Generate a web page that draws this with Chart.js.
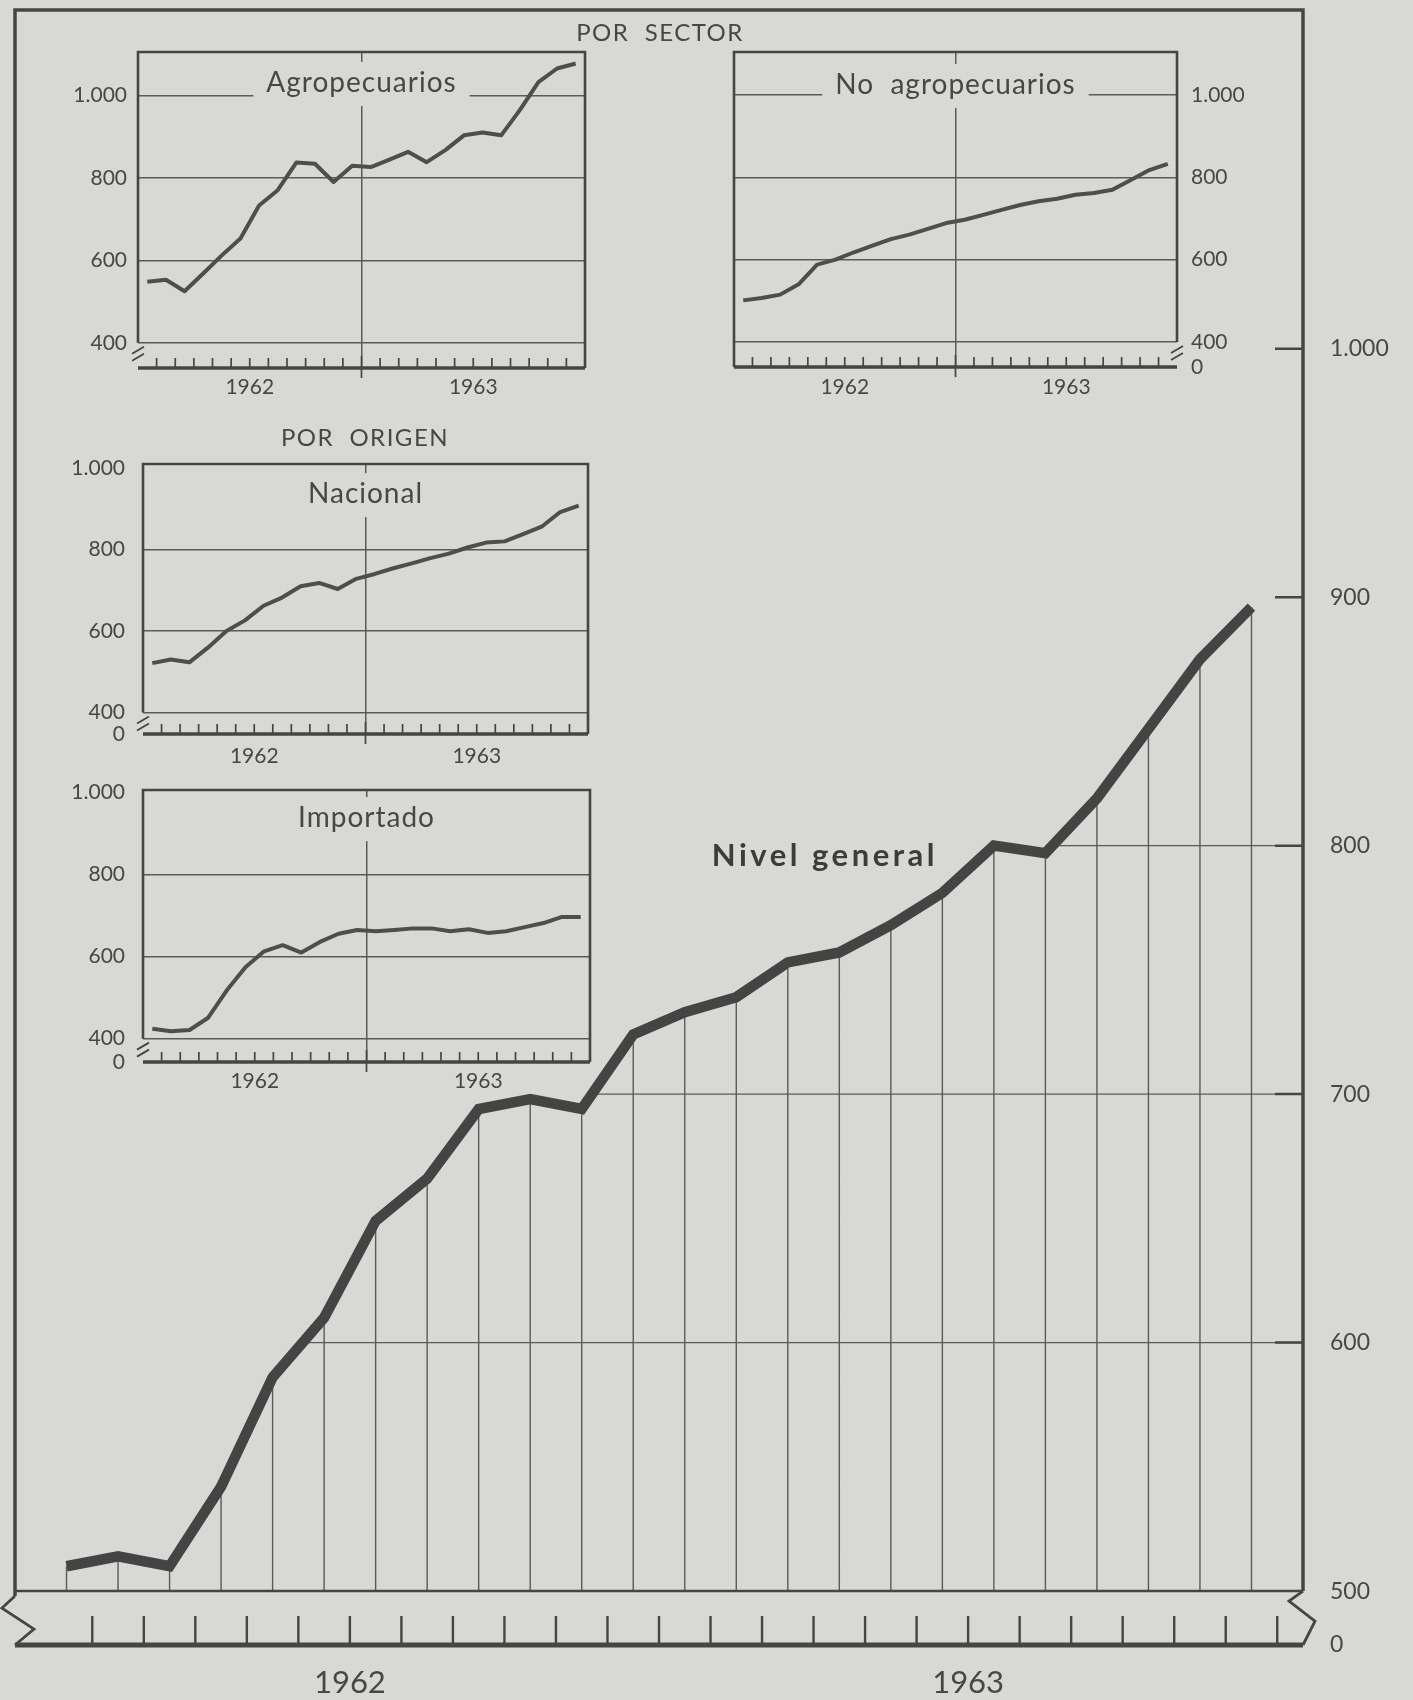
<!DOCTYPE html>
<html lang="es">
<head>
<meta charset="utf-8">
<title>Precios mayoristas 1962-1963</title>
<script src="https://cdn.jsdelivr.net/npm/chart.js@4.4.1/dist/chart.umd.min.js"></script>
<style>
  html, body { margin: 0; padding: 0; background: #d8d8d4; }
  #page { position: relative; width: 1413px; height: 1700px; overflow: hidden; }
  canvas { position: absolute; display: block; }
</style>
</head>
<body>
<div id="page">
  <canvas id="main" width="1413" height="1700" style="left:0;top:0"></canvas>
  <canvas id="agro"></canvas>
  <canvas id="noagro"></canvas>
  <canvas id="nacional"></canvas>
  <canvas id="importado"></canvas>
</div>
<script>
// ---- data ----
const months = [
  'ene 1962', 'feb 1962', 'mar 1962', 'abr 1962', 'may 1962', 'jun 1962',
  'jul 1962', 'ago 1962', 'sep 1962', 'oct 1962', 'nov 1962', 'dic 1962',
  'ene 1963', 'feb 1963', 'mar 1963', 'abr 1963', 'may 1963', 'jun 1963',
  'jul 1963', 'ago 1963', 'sep 1963', 'oct 1963', 'nov 1963', 'dic 1963'
];
const years = ['1962', '1963'];

const nivelGeneral    = [510, 514, 510, 542, 586, 610, 649, 666, 694, 698, 694, 724,
                         733, 739, 753, 757, 768, 781, 800, 797, 819, 847, 875, 896];
const agropecuarios   = [548, 553, 525, 568, 612, 653, 733, 770, 837, 834, 790, 829,
                         826, 844, 863, 838, 867, 903, 910, 903, 964, 1032, 1065, 1077];
const noAgropecuarios = [501, 507, 515, 540, 588, 600, 618, 634, 650, 661, 675, 689,
                         697, 709, 721, 733, 742, 748, 758, 762, 770, 794, 818, 833];
const nacional        = [521, 530, 523, 559, 600, 626, 662, 682, 710, 718, 703, 728,
                         740, 754, 766, 779, 790, 805, 817, 820, 838, 856, 892, 908];
const importado       = [424, 418, 421, 451, 518, 574, 613, 628, 610, 636, 656, 665,
                         662, 665, 669, 669, 662, 667, 658, 662, 672, 682, 697, 697];

const mainTicks  = [500, 600, 700, 800, 900, 1000];
const insetTicks = [400, 600, 800, 1000];

// ---- look ----
const PAPER = '#d8d8d4';
const INK = '#454545';
const GRID = '#5a5a5a';
const TEXT = '#474747';
const FONT = 'Lato, "Open Sans", sans-serif';
const NARROW = '"Liberation Sans Narrow", Lato, sans-serif';

const fmt = v => String(v).replace(/\B(?=(\d{3})+(?!\d))/g, '.');
const toPoints = arr => arr.map((v, i) => ({ x: i + 1, y: v }));

// year centres and the boundary between the two years (x = month number)
const yearCenters = years.map(yr => {
  const idx = months.map((m, i) => m.endsWith(yr) ? i + 1 : null).filter(v => v !== null);
  return idx.reduce((s, v) => s + v, 0) / idx.length;
});
const yearSplit = months.findIndex(m => m.endsWith(years[1])) + 0.5;
const yearLabel = v => {
  const i = yearCenters.findIndex(c => Math.abs(c - v) < 1e-6);
  return i >= 0 ? years[i] : '';
};

// ============ MAIN CHART ============

const BASE_VALUE = 500;
const MAIN_MIN = 478.3;
const MAIN_MAX = 1136.3;

const mainDecor = {
  id: 'mainDecor',
  beforeDatasetsDraw(chart) {
    const { ctx, chartArea: a, scales: { x, y } } = chart;
    const pts = chart.getDatasetMeta(0).data;
    const base = y.getPixelForValue(BASE_VALUE);
    const first = pts[0], last = pts[pts.length - 1];
    ctx.save();

    // drop lines from every month down to the base
    ctx.strokeStyle = GRID;
    ctx.lineWidth = 1.4;
    ctx.beginPath();
    pts.forEach(p => { ctx.moveTo(p.x, p.y); ctx.lineTo(p.x, base); });
    ctx.stroke();

    // horizontal grid only below the curve
    ctx.save();
    ctx.beginPath();
    ctx.moveTo(first.x, base);
    pts.forEach(p => ctx.lineTo(p.x, p.y));
    ctx.lineTo(a.right, last.y);
    ctx.lineTo(a.right, base);
    ctx.closePath();
    ctx.clip();
    ctx.beginPath();
    mainTicks.filter(v => v > BASE_VALUE).forEach(v => {
      const py = y.getPixelForValue(v);
      ctx.moveTo(a.left, py); ctx.lineTo(a.right, py);
    });
    ctx.stroke();
    ctx.restore();

    // short ticks on the inside of the right border
    ctx.strokeStyle = INK;
    ctx.lineWidth = 2.5;
    ctx.beginPath();
    mainTicks.filter(v => v > BASE_VALUE).forEach(v => {
      const py = y.getPixelForValue(v);
      ctx.moveTo(a.right - 28, py); ctx.lineTo(a.right, py);
    });
    ctx.stroke();

    // headings
    ctx.fillStyle = TEXT;
    ctx.textAlign = 'center';
    ctx.textBaseline = 'middle';
    ctx.font = '24px ' + FONT;
    ctx.letterSpacing = '1.5px';
    ctx.fillText('POR  SECTOR', 660, 33);
    ctx.fillText('POR  ORIGEN', 365, 438);

    ctx.font = 'bold 31px ' + FONT;
    ctx.letterSpacing = '3.5px';
    ctx.fillStyle = '#3c3c3c';
    ctx.fillText('Nivel general', x.getPixelForValue(15.72), y.getPixelForValue(796));
    ctx.restore();
  },
  afterDraw(chart) {
    const { ctx, chartArea: a, scales: { x, y } } = chart;
    const L = a.left, R = a.right, T = a.top, B = a.bottom;
    const base = y.getPixelForValue(BASE_VALUE);
    ctx.save();
    ctx.strokeStyle = INK;
    ctx.lineJoin = 'miter';

    // frame with broken sides
    ctx.lineWidth = 3.5;
    ctx.beginPath();
    ctx.moveTo(L, base + 5);
    ctx.lineTo(L, T);
    ctx.lineTo(R, T);
    ctx.lineTo(R, base);
    ctx.stroke();

    ctx.lineWidth = 2.8;
    ctx.beginPath();
    ctx.moveTo(L, base + 5); ctx.lineTo(L - 13, base + 17); ctx.lineTo(L + 19, base + 38); ctx.lineTo(L, B);
    ctx.moveTo(R, base); ctx.lineTo(R - 14, base + 10); ctx.lineTo(R + 12, base + 30); ctx.lineTo(R, B);
    ctx.stroke();

    // base line (500)
    ctx.lineWidth = 2.5;
    ctx.beginPath();
    ctx.moveTo(L, base); ctx.lineTo(R, base);
    ctx.stroke();

    // lower axis (0) with month ticks
    ctx.lineWidth = 5;
    ctx.beginPath();
    ctx.moveTo(L, B); ctx.lineTo(R, B);
    ctx.stroke();

    ctx.lineWidth = 2.4;
    ctx.beginPath();
    months.forEach((m, i) => {
      const px = x.getPixelForValue(i + 1.5);
      ctx.moveTo(px, B - 29); ctx.lineTo(px, B);
    });
    ctx.stroke();
    ctx.restore();
  }
};

new Chart(document.getElementById('main'), {
  type: 'line',
  data: {
    datasets: [{
      label: 'Nivel general',
      data: toPoints(nivelGeneral),
      borderColor: '#444444',
      borderWidth: 10.5,
      borderJoinStyle: 'miter',
      borderCapStyle: 'butt',
      pointRadius: 0,
      tension: 0
    }]
  },
  options: {
    responsive: false,
    animation: false,
    events: [],
    layout: { padding: { left: 15, top: 10, right: 0, bottom: 0 } },
    plugins: { legend: { display: false }, tooltip: { enabled: false } },
    scales: {
      x: {
        type: 'linear', min: 0, max: 25,
        grid: { display: false, drawTicks: false },
        border: { display: false },
        afterBuildTicks: s => { s.ticks = yearCenters.map(v => ({ value: v })); },
        ticks: {
          callback: v => yearLabel(v),
          autoSkip: false, maxRotation: 0, padding: 19,
          color: TEXT, font: { family: NARROW, size: 31 }
        },
        afterFit: s => { s.height = 55; s.paddingLeft = 0; s.paddingRight = 0; }
      },
      y: {
        type: 'linear', position: 'right', min: MAIN_MIN, max: MAIN_MAX,
        grid: { display: false, drawTicks: false },
        border: { display: false },
        afterBuildTicks: s => { s.ticks = [{ value: s.min }].concat(mainTicks.map(v => ({ value: v }))); },
        ticks: {
          callback: (v, i) => i === 0 ? '0' : fmt(v),
          autoSkip: false, padding: 27,
          color: TEXT, font: { family: FONT, size: 23 }
        },
        afterFit: s => { s.width = 110; s.paddingTop = 0; s.paddingBottom = 0; }
      }
    }
  },
  plugins: [mainDecor]
});

// ============ INSETS ============

const insetDecor = {
  id: 'insetDecor',
  beforeDatasetsDraw(chart, args, o) {
    const { ctx, scales: { x, y } } = chart;
    const cx = x.getPixelForValue(yearSplit);
    const cy = y.getPixelForValue(o.titleAt);
    ctx.save();
    ctx.font = '28px ' + FONT;
    ctx.letterSpacing = '1px';
    const w = ctx.measureText(o.title).width;
    ctx.fillStyle = PAPER;
    ctx.fillRect(cx - w / 2 - 13, cy - 21, w + 26, 44);
    ctx.fillStyle = TEXT;
    ctx.textAlign = 'center';
    ctx.textBaseline = 'middle';
    ctx.fillText(o.title, cx, cy);
    ctx.restore();
  },
  afterDraw(chart, args, o) {
    const { ctx, chartArea: a, scales: { x, y } } = chart;
    const L = a.left, R = a.right, T = a.top, B = a.bottom;
    const y400 = y.getPixelForValue(insetTicks[0]);
    const breakLeft = o.breakSide === 'left';
    ctx.save();
    ctx.strokeStyle = INK;
    ctx.lineWidth = 2.6;
    ctx.beginPath();
    ctx.moveTo(L, breakLeft ? y400 : B);
    ctx.lineTo(L, T);
    ctx.lineTo(R, T);
    ctx.lineTo(R, breakLeft ? B : y400);
    ctx.stroke();

    ctx.lineWidth = 3.4;
    ctx.beginPath();
    ctx.moveTo(L, B); ctx.lineTo(R, B);
    ctx.stroke();

    // break mark
    const bx = breakLeft ? L : R;
    ctx.lineWidth = 1.8;
    ctx.beginPath();
    [0, 7].forEach(d => {
      ctx.moveTo(bx - 6, y400 + 11 + d);
      ctx.lineTo(bx + 6, y400 + 4 + d);
    });
    ctx.stroke();

    // month ticks, longer one at the change of year
    ctx.lineWidth = 1.7;
    ctx.beginPath();
    for (let i = 0; i < months.length - 1; i++) {
      const v = i + 1.5;
      const px = x.getPixelForValue(v);
      if (Math.abs(v - yearSplit) < 1e-6) {
        ctx.moveTo(px, B - 12); ctx.lineTo(px, B + 10);
      } else {
        ctx.moveTo(px, B - 10); ctx.lineTo(px, B);
      }
    }
    ctx.stroke();
    ctx.restore();
  }
};

function makeInset(id, values, s) {
  const el = document.getElementById(id);
  el.width = s.canvas.w;
  el.height = s.canvas.h;
  el.style.left = s.canvas.x + 'px';
  el.style.top = s.canvas.y + 'px';

  const axisLeft = s.axis === 'left';
  const padTop = s.box.t - s.canvas.y;
  const padLeft = axisLeft ? 0 : s.box.l - s.canvas.x;
  const padRight = axisLeft ? s.canvas.x + s.canvas.w - s.box.r : 0;
  const yWidth = axisLeft ? s.box.l - s.canvas.x : s.canvas.x + s.canvas.w - s.box.r;
  const xHeight = s.canvas.y + s.canvas.h - s.box.b;

  return new Chart(el, {
    type: 'line',
    data: {
      datasets: [{
        label: s.title,
        data: toPoints(values),
        borderColor: '#4e4e4e',
        borderWidth: 4,
        borderJoinStyle: 'round',
        pointRadius: 0,
        tension: 0
      }]
    },
    options: {
      responsive: false,
      animation: false,
      events: [],
      layout: { padding: { left: padLeft, top: padTop, right: padRight, bottom: 0 } },
      plugins: {
        legend: { display: false },
        tooltip: { enabled: false },
        insetDecor: { title: s.title, titleAt: s.titleAt, breakSide: s.axis }
      },
      scales: {
        x: {
          type: 'linear', min: 0.5, max: months.length + 0.5,
          grid: {
            drawTicks: false, lineWidth: 1.5,
            color: c => Math.abs(c.tick.value - yearSplit) < 1e-6 ? GRID : 'transparent'
          },
          border: { display: false },
          afterBuildTicks: sc => {
            sc.ticks = [yearCenters[0], yearSplit, yearCenters[1]].map(v => ({ value: v }));
          },
          ticks: {
            callback: v => yearLabel(v),
            autoSkip: false, maxRotation: 0, padding: s.xPad,
            color: TEXT, font: { family: FONT, size: 21 }
          },
          afterFit: sc => { sc.height = xHeight; sc.paddingLeft = 0; sc.paddingRight = 0; }
        },
        y: {
          type: 'linear', position: s.axis, min: s.min, max: s.max,
          grid: {
            drawTicks: false, lineWidth: 1.5,
            color: c => (c.index === 0 || c.tick.value > s.max - 15) ? 'transparent' : GRID
          },
          border: { display: false },
          afterBuildTicks: sc => {
            sc.ticks = [{ value: sc.min }].concat(
              insetTicks.filter(v => v <= sc.max + 1).map(v => ({ value: v })));
          },
          ticks: {
            callback: (v, i) => i === 0 ? s.zero : fmt(v),
            autoSkip: false, padding: s.yPad,
            color: TEXT, font: { family: FONT, size: 21 }
          },
          afterFit: sc => { sc.width = yWidth; sc.paddingTop = 0; sc.paddingBottom = 0; }
        }
      }
    },
    plugins: [insetDecor]
  });
}

makeInset('agro', agropecuarios, {
  title: 'Agropecuarios', titleAt: 1030, axis: 'left', zero: '',
  min: 339, max: 1105, yPad: 11, xPad: 7,
  canvas: { x: 50, y: 40, w: 550, h: 365 },
  box: { l: 138, t: 52, r: 585, b: 368 }
});

makeInset('noagro', noAgropecuarios, {
  title: 'No  agropecuarios', titleAt: 1025, axis: 'right', zero: '0',
  min: 339, max: 1105, yPad: 14, xPad: 8,
  canvas: { x: 720, y: 40, w: 550, h: 365 },
  box: { l: 734, t: 52, r: 1177, b: 367 }
});

makeInset('nacional', nacional, {
  title: 'Nacional', titleAt: 936, axis: 'left', zero: '0',
  min: 347, max: 1010, yPad: 18, xPad: 10,
  canvas: { x: 50, y: 450, w: 555, h: 320 },
  box: { l: 143, t: 464, r: 588, b: 734 }
});

makeInset('importado', importado, {
  title: 'Importado', titleAt: 938, axis: 'left', zero: '0',
  min: 343, max: 1006.6, yPad: 18, xPad: 7,
  canvas: { x: 50, y: 776, w: 555, h: 324 },
  box: { l: 143, t: 790, r: 590, b: 1062 }
});
</script>
</body>
</html>
